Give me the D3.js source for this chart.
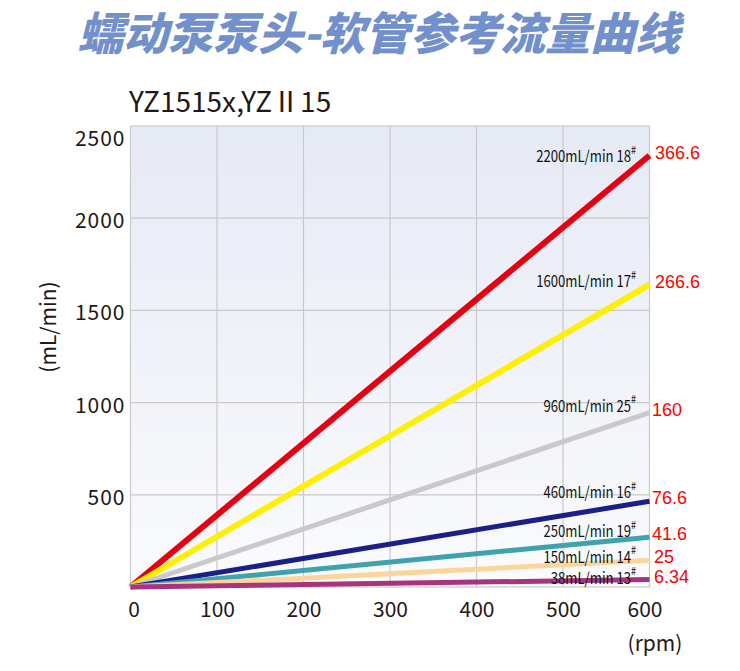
<!DOCTYPE html>
<html>
<head>
<meta charset="utf-8">
<script src="https://cdn.jsdelivr.net/npm/d3@7"></script>
<style>
  body { margin: 0; background: #fff; }
  text { font-family: "Noto Sans CJK SC", "Noto Sans", sans-serif; }
</style>
</head>
<body>
<svg id="chart"></svg>
<script>
// chart values
const rpmTicks = [0, 100, 200, 300, 400, 500, 600];
const flowTicks = [500, 1000, 1500, 2000, 2500];
const tubeNo = ["18", "17", "25", "16", "19", "14", "13"];
const ratedFlow = ["2200mL/min", "1600mL/min", "960mL/min", "460mL/min", "250mL/min", "150mL/min", "38mL/min"];
const endNumbers = ["366.6", "266.6", "160", "76.6", "41.6", "25", "6.34"];
const flowAt600 = [2340, 1640, 945, 465, 270, 145, 40];
const lineColors = ["#e60012", "#fff000", "#c9c9c9", "#1b1f87", "#3fa2af", "#fcd59c", "#a8347e"];

const width = 740, height = 671;
const margin = { top: 126, right: 90.5, bottom: 84, left: 130.5 };

const svg = d3.select("#chart").attr("width", width).attr("height", height);

const x = d3.scaleLinear().domain([0, 600]).range([margin.left, width - margin.right]);
const y = d3.scaleLinear().domain([0, 2500]).range([height - margin.bottom, margin.top]);

// background gradient of the plot area
const grad = svg.append("defs").append("linearGradient")
  .attr("id", "bg").attr("x1", 0).attr("y1", 0).attr("x2", 0).attr("y2", 1);
grad.append("stop").attr("offset", "0%").attr("stop-color", "#e6eaf5");
grad.append("stop").attr("offset", "100%").attr("stop-color", "#fafbfd");

svg.append("rect")
  .attr("x", x(0)).attr("y", y(2500))
  .attr("width", x(600) - x(0)).attr("height", y(0) - y(2500))
  .attr("fill", "url(#bg)")
  .attr("stroke", "#cacaca").attr("stroke-width", 1.2);

// grid
const grid = svg.append("g").attr("stroke", "#c9c9c9").attr("stroke-width", 1.2);
grid.selectAll(".vx").data(rpmTicks.slice(1, -1)).enter().append("line")
  .attr("x1", d => x(d)).attr("x2", d => x(d))
  .attr("y1", y(0)).attr("y2", y(2500));
grid.selectAll(".hy").data(flowTicks.slice(0, -1)).enter().append("line")
  .attr("x1", x(0)).attr("x2", x(600))
  .attr("y1", d => y(d)).attr("y2", d => y(d));

// axes
const yAxis = svg.append("g")
  .attr("transform", `translate(${x(0)},0)`)
  .call(d3.axisLeft(y).tickValues(flowTicks).tickFormat(d3.format("d")).tickSize(0).tickPadding(5));
yAxis.select(".domain").remove();
yAxis.selectAll("text")
  .attr("fill", "#231815")
  .attr("font-size", 21)
  .attr("letter-spacing", 1)
  .attr("dy", d => d === 2500 ? "0.95em" : "0.45em")
  .style("font-family", "'Noto Sans CJK SC'");

const xAxis = svg.append("g")
  .attr("transform", `translate(0,${y(0)})`)
  .call(d3.axisBottom(x).tickValues(rpmTicks).tickSize(0).tickPadding(15));
xAxis.select(".domain").remove();
xAxis.selectAll("text")
  .attr("fill", "#231815")
  .attr("font-size", 21)
  .attr("dx", d => d === 0 ? 3 : d === 600 ? -5 : 0)
  .style("font-family", "'Noto Sans CJK SC'");

svg.append("text")
  .attr("transform", "translate(47,327) rotate(-90)")
  .attr("text-anchor", "middle").attr("dominant-baseline", "central")
  .attr("font-size", 21).attr("fill", "#231815")
  .text("(mL/min)");

svg.append("text")
  .attr("x", 655).attr("y", 642)
  .attr("text-anchor", "middle").attr("dominant-baseline", "central")
  .attr("font-size", 21).attr("fill", "#231815")
  .text("(rpm)");

// title and subtitle
svg.append("text")
  .attr("x", 379).attr("y", 50)
  .attr("text-anchor", "middle")
  .attr("font-size", 45).attr("font-weight", 900).attr("font-style", "italic")
  .attr("fill", "#7290cc")
  .text("蠕动泵泵头-软管参考流量曲线");

svg.append("text")
  .attr("x", 129).attr("y", 112)
  .attr("font-size", 28).attr("fill", "#231815")
  .text("YZ1515x,YZⅡ15");

// flow lines
const series = flowAt600.map((v, i) => ({
  i,
  values: [[0, 0], [600, v]]
}));

const line = d3.line().x(d => x(d[0])).y(d => y(d[1]));

svg.append("g").selectAll("path").data(series).enter().append("path")
  .attr("d", d => line(d.values))
  .attr("fill", "none")
  .attr("stroke", d => lineColors[d.i])
  .attr("stroke-width", d => d.i < 2 ? 6 : 5);

// labels above the line ends (narrowed to look condensed)
const labelX = 636;
const labels = svg.append("g").selectAll("text").data(series).enter().append("text")
  .attr("transform", d => {
    const v = flowAt600[d.i];
    const lineY = y(v * x.invert(labelX - 2) / 600);
    const ly = lineY - Math.min(14, 3 + 0.022 * v);
    return `translate(${labelX},${ly}) scale(0.82,1)`;
  })
  .attr("text-anchor", "end")
  .attr("dominant-baseline", "central")
  .attr("font-size", 16)
  .attr("fill", "#111");
labels.append("tspan").text(d => `${ratedFlow[d.i]} ${tubeNo[d.i]}`);
labels.append("tspan").attr("font-size", 11).attr("dy", -6).text("#");

// red numbers at the line ends
svg.append("g").selectAll("text").data(series).enter().append("text")
  .attr("x", d => flowAt600[d.i] > 200 && flowAt600[d.i] < 1000 ? 652 : (flowAt600[d.i] < 200 ? 654 : 655))
  .attr("y", d => y(flowAt600[d.i]) - 3)
  .attr("dominant-baseline", "central")
  .attr("font-size", 18)
  .attr("fill", "#ff0000")
  .style("font-family", "'Liberation Sans', Arial, sans-serif")
  .text(d => endNumbers[d.i]);
</script>
</body>
</html>
